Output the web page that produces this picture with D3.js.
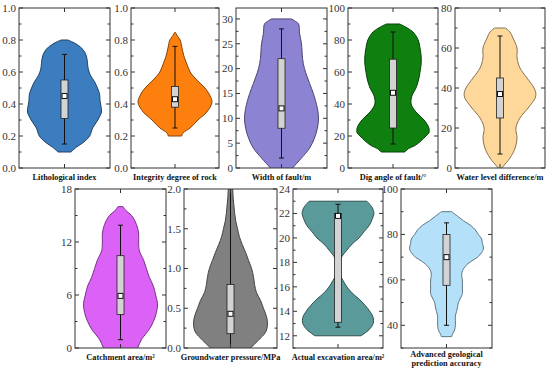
<!DOCTYPE html>
<html><head><meta charset="utf-8">
<script src="https://cdn.jsdelivr.net/npm/d3@7"></script>
<style>body{margin:0;background:#fff}svg{display:block}</style>
</head><body>
<svg id="c" width="550" height="371"></svg>
<script>
// ---------- data ----------
const labels = ["Lithological index","Integrity degree of rock","Width of fault/m","Dig angle of fault/°","Water level difference/m",
  "Catchment area/m²","Groundwater pressure/MPa","Actual excavation area/m²","Advanced geological|prediction accuracy"];
const colors = ["#3b7dbf","#fd800f","#8d83d3","#0f7f0f","#fed89b","#dc62f7","#808080","#5b9a9a","#b4e0fa"];
const yDomains = [[0,1],[0,1],[0,32.2],[0,100],[0,80],[0,18],[0,2],[11,24],[30,100]];
const yTicks = [[0,0.2,0.4,0.6,0.8,1.0],[0,0.2,0.4,0.6,0.8,1.0],[0,5,10,15,20,25,30],[0,20,40,60,80,100],[0,20,40,60,80],
  [0,6,12,18],[0,0.5,1.0,1.5,2.0],[12,14,16,18,20,22,24],[40,60,80,100]];
const minorSteps = [0.1,0.1,2.5,10,10,3,0.25,1,10];
const tickFormats = [".1f",".1f","d","d","d","d",".1f","d","d"];

// violin profiles: [value, relative density width]
const lithoProfile = [[0.8,0.09],[0.79,0.19],[0.77,0.35],[0.74,0.5],[0.7,0.59],[0.66,0.62],[0.62,0.64],[0.58,0.7],[0.54,0.81],[0.5,0.89],[0.46,0.95],[0.42,0.96],[0.38,0.99],[0.35,1],[0.3,0.9],[0.25,0.76],[0.2,0.68],[0.16,0.51],[0.13,0.32],[0.11,0.22],[0.1,0.18]];
const integrityProfile = [[0.85,0],[0.82,0.08],[0.8,0.14],[0.75,0.19],[0.7,0.24],[0.65,0.32],[0.6,0.41],[0.55,0.59],[0.5,0.81],[0.45,0.95],[0.41,1],[0.35,0.86],[0.3,0.62],[0.25,0.41],[0.22,0.22],[0.2,0.18]];
const faultWidthProfile = [[30,0.27],[29.5,0.38],[29,0.46],[27,0.49],[25,0.54],[22,0.57],[20,0.62],[17,0.76],[15,0.86],[12,0.97],[10,1],[8,0.97],[6,0.89],[4,0.76],[2,0.54],[0,0.3],[-1,0.19]];
const dipAngleProfile = [[90,0.18],[88,0.35],[85,0.54],[80,0.68],[75,0.73],[70,0.76],[65,0.76],[60,0.73],[55,0.69],[50,0.62],[45,0.51],[40,0.49],[35,0.62],[30,0.84],[25,0.97],[22,0.97],[20,0.89],[17,0.76],[14,0.59],[12,0.41],[10,0.32]];
const waterLevelProfile = [[70,0.14],[68,0.27],[65,0.35],[60,0.46],[55,0.46],[50,0.54],[45,0.73],[40,0.92],[37,0.97],[35,0.95],[30,0.76],[25,0.54],[20,0.43],[15,0.46],[10,0.41],[5,0.27],[2,0.14],[0,0.05],[-1,0]];
const catchmentProfile = [[16,0.07],[15.5,0.16],[15,0.3],[14,0.43],[13,0.49],[12,0.49],[11,0.51],[10,0.62],[9,0.7],[8,0.78],[7,0.89],[6,0.95],[5,1],[4,0.97],[3,0.89],[2,0.76],[1,0.57],[0,0.46],[-1,0.32]];
const pressureProfile = [[2.1,0.04],[2.0,0.06],[1.9,0.07],[1.8,0.09],[1.7,0.11],[1.6,0.14],[1.5,0.19],[1.4,0.24],[1.3,0.32],[1.2,0.41],[1.1,0.49],[1.0,0.57],[0.9,0.62],[0.8,0.65],[0.7,0.7],[0.6,0.81],[0.5,0.89],[0.4,0.97],[0.3,1],[0.2,0.95],[0.1,0.76],[0,0.54],[-0.1,0.32]];
const excavationProfile = [[23,0.78],[22.5,0.92],[22,0.97],[21.5,0.92],[21,0.84],[20.5,0.7],[20,0.57],[19.5,0.38],[19,0.24],[18.5,0.11],[18,0.05],[17.5,0.01],[17,0.05],[16.5,0.14],[16,0.24],[15.5,0.38],[15,0.57],[14.5,0.73],[14,0.86],[13.5,0.95],[13,0.95],[12.5,0.84],[12,0.62]];
const accuracyProfile = [[90,0.14],[88,0.3],[86,0.46],[84,0.65],[82,0.78],[80,0.86],[78,0.95],[76,0.97],[74,1],[72,0.95],[70,0.84],[68,0.65],[66,0.51],[64,0.43],[62,0.41],[60,0.43],[58,0.43],[56,0.43],[54,0.43],[52,0.38],[50,0.32],[48,0.3],[46,0.27],[44,0.24],[42,0.24],[40,0.24],[38,0.22],[36,0.16],[35,0.14]];
const profiles = [lithoProfile,integrityProfile,faultWidthProfile,dipAngleProfile,waterLevelProfile,catchmentProfile,pressureProfile,excavationProfile,accuracyProfile];

// box stats: [whiskerLow, Q1, median, Q3, whiskerHigh]
const boxStats = [[0.15,0.31,0.45,0.55,0.71],[0.25,0.38,0.43,0.51,0.76],[2,8,12,22,28],[15,25,47,68,85],[7,25,37,45,66],
  [0.94,3.8,5.9,10.45,13.9],[-0.1,0.18,0.43,0.8,2.1],[12.7,13.1,21.8,22.0,22.75],[40,57.6,70,80,85.1]];

// ---------- layout ----------
const frames = [
  [19,8,110,168],[131,8,219,168],[236,8,327,168],[348,8,438,168],[455,8,545,168],
  [75,189,166,348],[184,189,277,348],[293,189,383,348],[401,189,492,348]];
const svg = d3.select("#c");
const defs = svg.append("defs");
const font = "'Liberation Serif','Times New Roman',serif";
const frameColor = "#333";

frames.forEach((f,i)=>{
  const [x0,y0,x1,y1] = f;
  const cx = (x0+x1)/2;
  const y = d3.scaleLinear().domain(yDomains[i]).range([y1,y0]);
  const w = d3.scaleLinear().domain([-1,1]).range([cx-37,cx+37]);
  const g = svg.append("g");
  defs.append("clipPath").attr("id","clip"+i).append("rect").attr("x",x0).attr("y",y0).attr("width",x1-x0).attr("height",y1-y0);
  const inner = g.append("g").attr("clip-path",`url(#clip${i})`);
  const col = d3.color(colors[i]);
  const area = d3.area().curve(d3.curveCatmullRom.alpha(0.5))
    .y(d=>y(d[0])).x0(d=>w(-d[1])).x1(d=>w(d[1]));
  inner.append("path").datum(profiles[i]).attr("d",area)
    .attr("fill",colors[i]).attr("stroke",col.darker(1.8)).attr("stroke-width",1);
  // box
  const [wl,q1,md,q3,wh] = boxStats[i];
  inner.append("line").attr("x1",cx).attr("x2",cx).attr("y1",y(wl)).attr("y2",y(wh)).attr("stroke","#111").attr("stroke-width",1);
  [wl,wh].forEach(v=>inner.append("line").attr("x1",cx-2.5).attr("x2",cx+2.5).attr("y1",y(v)).attr("y2",y(v)).attr("stroke","#111"));
  inner.append("rect").attr("x",cx-3.5).attr("width",7).attr("y",y(q3)).attr("height",y(q1)-y(q3))
    .attr("fill","#d3d3d3").attr("stroke","#222").attr("stroke-width",0.8);
  inner.append("rect").attr("x",cx-2.5).attr("width",5).attr("y",y(md)-2.5).attr("height",5)
    .attr("fill","#fff").attr("stroke","#111").attr("stroke-width",1);
  // frame
  g.append("rect").attr("x",x0).attr("y",y0).attr("width",x1-x0).attr("height",y1-y0)
    .attr("fill","none").attr("stroke",frameColor).attr("stroke-width",1);
  // ticks
  const [d0,d1] = yDomains[i];
  const minors = d3.range(Math.ceil(d0/minorSteps[i])*minorSteps[i], d1+1e-9, minorSteps[i]);
  minors.forEach(v=>{
    const isMajor = yTicks[i].some(t=>Math.abs(t-v)<1e-6);
    const len = isMajor?4:2.5;
    g.append("line").attr("x1",x0).attr("x2",x0+len).attr("y1",y(v)).attr("y2",y(v)).attr("stroke",frameColor);
    g.append("line").attr("x1",x1).attr("x2",x1-len).attr("y1",y(v)).attr("y2",y(v)).attr("stroke",frameColor);
  });
  g.append("line").attr("x1",cx).attr("x2",cx).attr("y1",y1).attr("y2",y1-4).attr("stroke",frameColor);
  g.append("line").attr("x1",cx).attr("x2",cx).attr("y1",y0).attr("y2",y0+4).attr("stroke",frameColor);
  const fmt = d3.format(tickFormats[i]);
  yTicks[i].forEach(t=>{
    g.append("text").attr("x",x0-3).attr("y",y(t)).attr("dy","0.35em").attr("text-anchor","end")
      .attr("font-family",font).attr("font-size",11).attr("fill","#333").text(fmt(t));
  });
  const lines = labels[i].split("|");
  lines.forEach((s,k)=>{
    g.append("text").attr("x",cx).attr("y",y1 + (lines.length>1 ? 9 + k*9 : 12))
      .attr("text-anchor","middle").attr("font-family",font).attr("font-weight","bold")
      .attr("font-size",8.3).attr("fill","#111").text(s);
  });
});
</script>
</body></html>
